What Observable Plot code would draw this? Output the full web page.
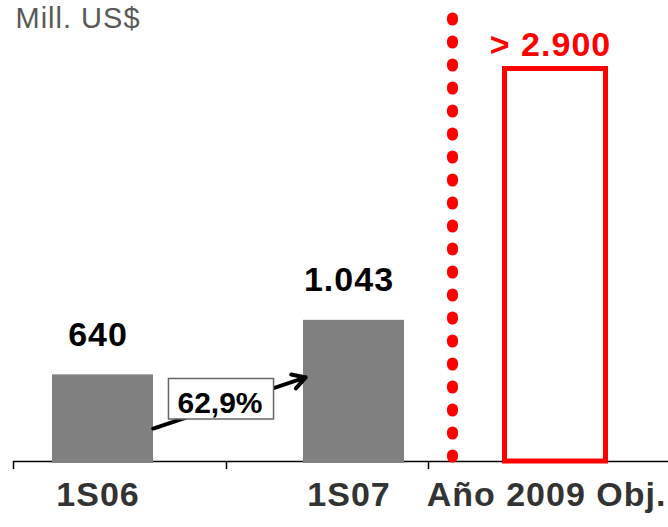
<!DOCTYPE html>
<html><head><meta charset="utf-8">
<script src="https://cdn.jsdelivr.net/npm/d3@7"></script>
<script src="https://cdn.jsdelivr.net/npm/@observablehq/plot@0.6"></script>
<style>
html,body{margin:0;padding:0;background:#fff;overflow:hidden;}
</style></head><body>
<div id="chart"></div>
<script>
// ---- data ----
const categories = ["1S06", "1S07"];
const values = [640, 1043];
const targetCategory = "Año 2009 Obj.";
const targetValue = 2900;
const growthLabel = "62,9%";
const arrowLevels = [119, 741];      // arrow anchor levels (Mill. US$)
const growthLabelLevel = 433;        // label level (Mill. US$)
const unitLabel = "Mill. US$";

// ---- helpers ----
const es = d3.formatLocale({decimal: ",", thousands: ".", grouping: [3], currency: ["", ""]});
const fmt = es.format(",d");
const bars = categories.map((c, i) => ({category: c, value: values[i]}));
const target = [{category: targetCategory, value: targetValue}];
const growth = [{from: categories[0], to: categories[1], y1: arrowLevels[0], y2: arrowLevels[1], label: growthLabel, level: growthLabelLevel}];

const font = "'Liberation Sans', Arial, Helvetica, sans-serif";
const red = "#ff0000";
const targetShift = -49.5;
const big = {fontSize: 34, fontWeight: "bold"};

const tick = (data, dx) => Plot.ruleX(data, {x: d => d, y1: () => 0, y2: () => 0, insetBottom: -8, stroke: "#000", strokeWidth: 1.5, dx});

const chart = Plot.plot({
  width: 668, height: 527,
  marginTop: 18, marginBottom: 66, marginLeft: 13, marginRight: 0,
  style: {fontFamily: font, background: "#fff", overflow: "visible"},
  x: {type: "band", domain: [...categories, targetCategory], range: [52, 655], paddingInner: 150 / 251, paddingOuter: 0, round: false, axis: null},
  y: {domain: [0, targetValue], range: [461, 68.5], axis: null},
  marks: [
    Plot.ruleY([0], {stroke: "#000", strokeWidth: 1.5}),
    tick([categories[0]], -89.5),
    tick([categories[1]], -127.5),
    tick([targetCategory], -176.5),
    Plot.barY(bars, {x: "category", y: "value", fill: "#808080", insetBottom: -2}),
    Plot.ruleX(target, {x: "category", dx: -152.5, stroke: red, strokeWidth: 11, strokeDasharray: "2,21", strokeLinecap: "round"}),
    Plot.barY(target, {x: "category", y: "value", fill: "none", stroke: red, strokeWidth: 5, dx: targetShift}),
    Plot.text(bars, {x: "category", y: "value", text: d => fmt(d.value), dy: -40, dx: -5, fill: "#000", ...big}),
    Plot.text(target, {x: "category", y: "value", text: d => "> " + fmt(d.value), dy: -24, dx: targetShift - 5, fill: red, ...big}),
    Plot.text(bars, {x: "category", frameAnchor: "bottom", text: "category", dy: 44, dx: -5, fill: "#333", ...big}),
    Plot.text(target, {x: "category", frameAnchor: "bottom", text: "category", dy: 44, dx: -58.5, fill: "#333", ...big}),
    Plot.arrow(growth, {x1: "from", y1: "y1", x2: "to", y2: "y2", insetStart: 53, insetEnd: 51, stroke: "#000", strokeWidth: 4, headLength: 5.5}),
    Plot.text(growth, {x: "from", y: "level", text: "label", dx: 117, fill: "#000", fontSize: 30, fontWeight: "bold"}),
    Plot.text([unitLabel], {frameAnchor: "top-left", text: d => d, textAnchor: "start", lineAnchor: "top", dx: 2, dy: -11, fontSize: 29, fill: "#595959"})
  ]
});
document.getElementById("chart").append(chart);

const svg = d3.select(chart);
svg.selectAll("text").each(function() {
  const t = d3.select(this);
  if (this.textContent === growthLabel) {
    const bb = this.getBBox();
    d3.select(this.parentNode).insert("rect", () => this)
      .attr("x", bb.x - 9).attr("y", bb.y - 7)
      .attr("width", bb.width + 20).attr("height", bb.height + 7.5)
      .attr("transform", this.getAttribute("transform"))
      .attr("fill", "#fff").attr("stroke", "#666").attr("stroke-width", 1.5);
  } else {
    t.style("letter-spacing", "1px");
  }
});
</script>
</body></html>
